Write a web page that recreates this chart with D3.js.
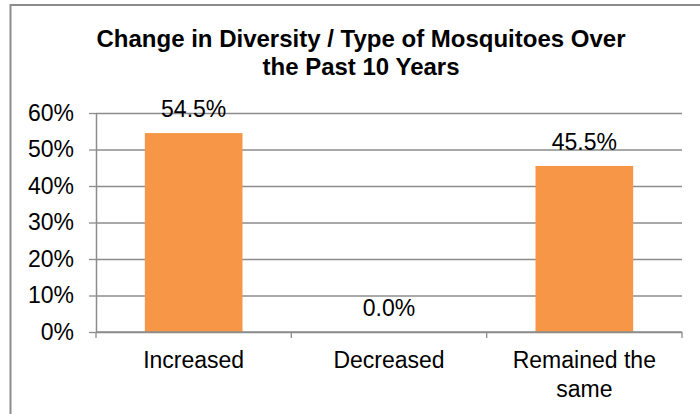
<!DOCTYPE html>
<html lang="en">
<head>
  <meta charset="UTF-8">
  <title>Change in Diversity</title>
  <style>
    body { margin: 0; background: #fff; }
    svg text { font-family: "Liberation Sans", Arial, sans-serif; fill: #000; }
  </style>
  <script src="https://cdn.jsdelivr.net/npm/d3@7"></script>
</head>
<body>
  <svg width="700" height="414"></svg>
  <script>
    var titleLines = ["Change in Diversity / Type of Mosquitoes Over", "the Past 10 Years"];
    var categories = ["Increased", "Decreased", "Remained the same"];
    var values = [0.545, 0.0, 0.455];
    var yTicks = [0, 0.1, 0.2, 0.3, 0.4, 0.5, 0.6];

    var svg = d3.select("svg");

    // outer chart frame (right/bottom edges fall outside the view)
    svg.append("rect")
      .attr("x", 10.5).attr("y", 5)
      .attr("width", 720).attr("height", 430)
      .attr("fill", "none").attr("stroke", "#8c8c8c").attr("stroke-width", 2);

    var plotLeft = 96, plotRight = 682, plotTop = 113, plotBottom = 332;

    var x = d3.scaleBand()
      .domain(categories)
      .range([plotLeft, plotRight])
      .paddingInner(0.5)
      .paddingOuter(0.25);

    var y = d3.scaleLinear()
      .domain([0, 0.6])
      .range([plotBottom, plotTop]);

    // title
    svg.append("text")
      .attr("text-anchor", "middle")
      .style("font-size", "24px")
      .style("font-weight", "bold")
      .selectAll("tspan")
      .data(titleLines)
      .enter().append("tspan")
        .attr("x", 361)
        .attr("y", function(d, i) { return 47 + i * 28; })
        .text(function(d) { return d; });

    // gridlines
    svg.append("g")
      .attr("transform", "translate(" + plotLeft + ",0)")
      .call(d3.axisLeft(y).tickValues(yTicks).tickSize(-(plotRight - plotLeft)).tickFormat(""))
      .call(function(g) {
        g.select(".domain").remove();
        g.selectAll("line").attr("stroke", "#8c8c8c").attr("stroke-width", 1.3);
      });

    // y axis
    svg.append("g")
      .attr("transform", "translate(" + plotLeft + ",0)")
      .call(d3.axisLeft(y).tickValues(yTicks).tickSizeInner(7).tickSizeOuter(0)
        .tickPadding(15).tickFormat(d3.format(".0%")))
      .call(function(g) {
        g.select(".domain").attr("stroke", "#8c8c8c").attr("stroke-width", 1.5);
        g.selectAll("line").attr("stroke", "#8c8c8c").attr("stroke-width", 1.3);
        g.selectAll("text").style("font-size", "23px").attr("fill", "#000")
          .attr("font-family", null);
      });

    // bars
    svg.append("g")
      .selectAll("rect")
      .data(values)
      .enter().append("rect")
        .attr("x", function(d, i) { return x(categories[i]); })
        .attr("y", function(d) { return y(d); })
        .attr("width", x.bandwidth())
        .attr("height", function(d) { return plotBottom - y(d); })
        .attr("fill", "#f79646");

    // x axis line and category boundary ticks
    var step = x.step();
    var bounds = d3.range(categories.length + 1).map(function(i) { return plotLeft + i * step; });
    var xa = svg.append("g");
    xa.append("line")
      .attr("x1", plotLeft).attr("x2", plotRight)
      .attr("y1", plotBottom).attr("y2", plotBottom)
      .attr("stroke", "#8c8c8c").attr("stroke-width", 1.5);
    xa.selectAll(".tk")
      .data(bounds)
      .enter().append("line")
        .attr("x1", function(d) { return d; }).attr("x2", function(d) { return d; })
        .attr("y1", plotBottom).attr("y2", plotBottom + 6)
        .attr("stroke", "#8c8c8c").attr("stroke-width", 1.3);

    // category labels (wrapped)
    function wrapWords(text, maxChars) {
      var words = text.split(" "), lines = [], cur = "";
      words.forEach(function(w) {
        var t = cur ? cur + " " + w : w;
        if (t.length > maxChars && cur) { lines.push(cur); cur = w; } else { cur = t; }
      });
      lines.push(cur);
      return lines;
    }

    svg.append("g")
      .selectAll("text")
      .data(categories)
      .enter().append("text")
        .attr("text-anchor", "middle")
        .style("font-size", "23px")
        .each(function(d) {
          var cx = x(d) + x.bandwidth() / 2;
          d3.select(this).selectAll("tspan")
            .data(wrapWords(d, 13))
            .enter().append("tspan")
              .attr("x", cx)
              .attr("y", function(l, i) { return 368 + i * 29; })
              .text(function(l) { return l; });
        });

    // data labels
    svg.append("g")
      .selectAll("text")
      .data(values)
      .enter().append("text")
        .attr("text-anchor", "middle")
        .style("font-size", "23px")
        .attr("x", function(d, i) { return x(categories[i]) + x.bandwidth() / 2; })
        .attr("y", function(d) { return y(d) - 16; })
        .text(function(d) { return d3.format(".1%")(d); });
  </script>
</body>
</html>
